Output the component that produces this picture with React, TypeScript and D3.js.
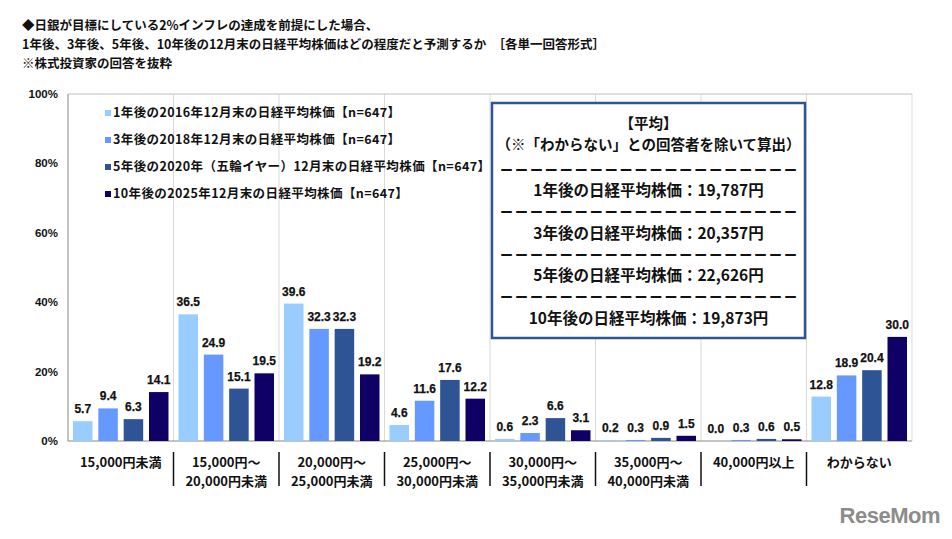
import { useEffect } from 'react'
import * as d3 from 'd3'

// ── data ─────────────────────────────────────────────────────────────────────
const CATEGORIES = [
  ['15,000円未満'],
  ['15,000円～', '20,000円未満'],
  ['20,000円～', '25,000円未満'],
  ['25,000円～', '30,000円未満'],
  ['30,000円～', '35,000円未満'],
  ['35,000円～', '40,000円未満'],
  ['40,000円以上'],
  ['わからない'],
]
const SERIES = [
  '1年後の2016年12月末の日経平均株価【n=647】',
  '3年後の2018年12月末の日経平均株価【n=647】',
  '5年後の2020年（五輪イヤー）12月末の日経平均株価【n=647】',
  '10年後の2025年12月末の日経平均株価【n=647】',
]
const Y1 = [5.7, 36.5, 39.6, 4.6, 0.6, 0.2, 0.0, 12.8]
const Y3 = [9.4, 24.9, 32.3, 11.6, 2.3, 0.3, 0.3, 18.9]
const Y5 = [6.3, 15.1, 32.3, 17.6, 6.6, 0.9, 0.6, 20.4]
const Y10 = [14.1, 19.5, 19.2, 12.2, 3.1, 1.5, 0.5, 30.0]
const VALUES = [Y1, Y3, Y5, Y10]
const Y_TICKS = [0, 20, 40, 60, 80, 100]

const TITLE = [
  '◆日銀が目標にしている2%インフレの達成を前提にした場合、',
  '1年後、3年後、5年後、10年後の12月末の日経平均株価はどの程度だと予測するか　［各単一回答形式］',
  '※株式投資家の回答を抜粋',
]
const BOX_HEAD = ['【平均】', '（※「わからない」との回答者を除いて算出）']
const BOX_ROWS = [
  '1年後の日経平均株価：19,787円',
  '3年後の日経平均株価：20,357円',
  '5年後の日経平均株価：22,626円',
  '10年後の日経平均株価：19,873円',
]

// ── constants ────────────────────────────────────────────────────────────────
const W = 952
const H = 539
const M = { top: 94, right: 40, bottom: 98, left: 68 }
const COLORS = ['#99CCFF', '#6699FF', '#2E5496', '#0F0066']
const JP = '"Noto Sans CJK JP", "Liberation Sans", sans-serif'
const NUM = '"Liberation Sans", Arial, "Noto Sans CJK JP", sans-serif'
const GRID = '#d9d9d9'

export default function App() {
  useEffect(() => { document.body.style.margin = '0' }, [])

  const iW = W - M.left - M.right
  const iH = H - M.top - M.bottom

  const x0 = d3.scaleBand<number>().domain(d3.range(CATEGORIES.length)).range([0, iW])
  const x1 = d3.scaleBand<number>().domain(d3.range(SERIES.length))
    .range([5, x0.bandwidth() - 5]).paddingInner(0.23)
  const y = d3.scaleLinear().domain([0, 100]).range([iH, 0])

  const bounds = d3.range(CATEGORIES.length + 1).map(i => i * x0.step())
  const boxX = 492, boxY = 103, boxW = 313, boxH = 235
  const boxCx = boxX + boxW / 2

  return (
    <svg width={W} height={H} style={{ display: 'block', background: '#fff' }}>
      {/* title */}
      {TITLE.map((t, i) => (
        <text key={i} x={22} y={30 + i * 19} fontFamily={JP} fontWeight="bold" fontSize={12.5} fill="#111">{t}</text>
      ))}

      <g transform={`translate(${M.left},${M.top})`}>
        {/* grid */}
        {bounds.slice(1).map((b, i) => (
          <line key={i} x1={b} x2={b} y1={0} y2={iH} stroke={GRID} strokeWidth={1} />
        ))}
        <line x1={0} x2={iW} y1={0} y2={0} stroke="#bfbfbf" />
        <line x1={0} x2={0} y1={0} y2={iH} stroke="#888" />
        <line x1={0} x2={iW} y1={iH} y2={iH} stroke="#888" />

        {/* y ticks */}
        {Y_TICKS.map(t => (
          <text key={t} x={-10} y={y(t)} dy="0.35em" textAnchor="end" fontFamily={NUM} fontWeight="bold" fontSize={11.5} fill="#111">{t}%</text>
        ))}

        {/* bars */}
        {CATEGORIES.map((_, ci) => (
          <g key={ci} transform={`translate(${x0(ci)},0)`}>
            {VALUES.map((vals, si) => (
              <g key={si}>
                <rect x={x1(si)} y={y(vals[ci])} width={x1.bandwidth()} height={iH - y(vals[ci])} fill={COLORS[si]} />
                <text x={x1(si)! + x1.bandwidth() / 2} y={y(vals[ci]) - 8} textAnchor="middle" fontFamily={NUM} fontWeight={600} fontSize={12} fill="#111"
                  stroke="#111" strokeWidth={0.25}>
                  {vals[ci].toFixed(1)}
                </text>
              </g>
            ))}
          </g>
        ))}

        {/* category labels */}
        {CATEGORIES.map((lines, ci) => (
          <text key={ci} x={x0(ci)! + x0.bandwidth() / 2} y={iH + 26} textAnchor="middle" fontFamily={JP} fontWeight="bold" fontSize={13} fill="#111">
            {lines.map((l, li) => <tspan key={li} x={x0(ci)! + x0.bandwidth() / 2} dy={li === 0 ? 0 : 19}>{l}</tspan>)}
          </text>
        ))}
        {bounds.slice(1, -1).map((b, i) => (
          <line key={i} x1={b} x2={b} y1={iH + 11} y2={iH + 45} stroke="#111" strokeWidth={1.5} />
        ))}

        {/* legend */}
        {SERIES.map((s, i) => (
          <g key={i} transform={`translate(37,${19 + i * 27})`}>
            <rect x={0} y={-3} width={6} height={6} fill={COLORS[i]} />
            <text x={8} y={0} dy="0.35em" fontFamily={JP} fontWeight="bold" fontSize={12.5} letterSpacing={0.4} fill="#111">{s}</text>
          </g>
        ))}
      </g>

      {/* average box */}
      <rect x={boxX} y={boxY} width={boxW} height={boxH} fill="#fff" stroke="#2F5597" strokeWidth={2.5} />
      {BOX_HEAD.map((t, i) => (
        <text key={i} x={boxCx} y={124 + i * 21} dy="0.35em" textAnchor="middle" fontFamily={JP} fontWeight="bold" fontSize={14.5} fill="#111">{t}</text>
      ))}
      {BOX_ROWS.map((t, i) => (
        <g key={i}>
          <text x={boxCx} y={170 + i * 42.5} dy="0.35em" textAnchor="middle" fontFamily={JP} fontWeight="bold" fontSize={13} fill="#111"
            textLength={boxW - 16} lengthAdjust="spacing">{'ー'.repeat(20)}</text>
          <text x={boxCx} y={191 + i * 42.5} dy="0.35em" textAnchor="middle" fontFamily={JP} fontWeight="bold" fontSize={15.5} fill="#111">{t}</text>
        </g>
      ))}

      {/* watermark */}
      <text x={940} y={523} textAnchor="end" fontFamily={NUM} fontWeight="bold" fontSize={22} fill="#8c8c8c" letterSpacing={-0.5}>ReseMom</text>
    </svg>
  )
}
